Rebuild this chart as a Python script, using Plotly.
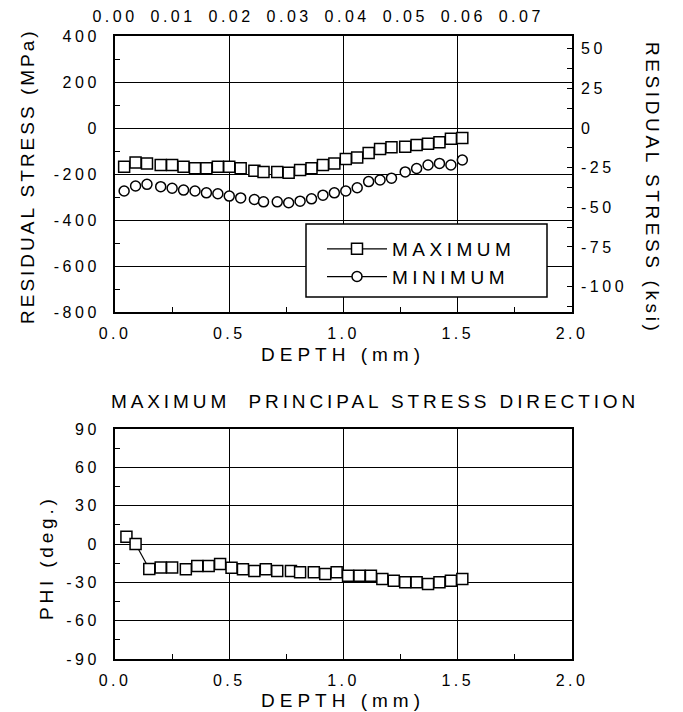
import plotly.graph_objects as go

# ---------------- data ----------------
depth_mm = [0.04, 0.09, 0.14, 0.20, 0.25, 0.30, 0.35, 0.40, 0.45, 0.50,
            0.55, 0.61, 0.65, 0.71, 0.76, 0.81, 0.86, 0.91, 0.96, 1.01,
            1.06, 1.11, 1.16, 1.21, 1.27, 1.32, 1.37, 1.42, 1.47, 1.52]
max_stress = [-169, -150, -154, -161, -161, -169, -175, -175, -169, -169,
              -175, -186, -191, -191, -195, -183, -175, -161, -154, -135,
              -128, -109, -91, -84, -81, -74, -69, -62, -47, -43]
min_stress = [-274, -252, -245, -255, -262, -270, -274, -282, -286, -296,
              -304, -311, -321, -321, -325, -318, -308, -292, -282, -274,
              -260, -233, -226, -218, -191, -176, -161, -154, -161, -139]
phi_depth = [0.05, 0.09, 0.15, 0.20, 0.25, 0.31, 0.36, 0.41, 0.46, 0.51,
             0.56, 0.61, 0.66, 0.71, 0.77, 0.81, 0.87, 0.92, 0.97, 1.02,
             1.07, 1.12, 1.17, 1.22, 1.27, 1.32, 1.37, 1.42, 1.47, 1.52]
phi_deg = [5.7, 0, -19.6, -18.3, -18.3, -19.8, -17.2, -17.2, -15.7, -18.5,
           -19.8, -21.1, -19.8, -21.1, -21.1, -22.2, -22.2, -23.5, -22.2, -24.8,
           -24.8, -24.8, -27.4, -28.7, -30, -30, -31.3, -30, -28.7, -27.4]

depth_ticks = [0.0, 0.5, 1.0, 1.5, 2.0]
depth_labels = ["0.0", "0.5", "1.0", "1.5", "2.0"]
inch_ticks = [0.00, 0.01, 0.02, 0.03, 0.04, 0.05, 0.06, 0.07]
inch_labels = ["0.00", "0.01", "0.02", "0.03", "0.04", "0.05", "0.06", "0.07"]
mpa_ticks = [400, 200, 0, -200, -400, -600, -800]
mpa_labels = ["400", "200", "0", "-200", "-400", "-600", "-800"]
ksi_ticks = [50, 25, 0, -25, -50, -75, -100]
ksi_labels = ["50", "25", "0", "-25", "-50", "-75", "-100"]
phi_ticks = [90, 60, 30, 0, -30, -60, -90]
phi_labels = ["90", "60", "30", "0", "-30", "-60", "-90"]
MPA_PER_KSI = 6.894757

FONT = "Liberation Sans, Arial, sans-serif"
OFF = 8                     # page body margin of the browser
W, H = 683 - OFF, 712 - OFF


def px_x(p):
    return (p - OFF) / W


def px_y(p):
    return 1 - (p - OFF) / H


def sp(text, ls):
    return '<span style="letter-spacing:%spx">%s</span>' % (ls, text)


TICK_LS = 3.5

fig = go.Figure()

mk_sq = dict(symbol="square", size=11, color="white", line=dict(color="black", width=1.5))
mk_ci = dict(symbol="circle", size=10, color="white", line=dict(color="black", width=1.5))

# top plot: data
fig.add_trace(go.Scatter(x=depth_mm, y=max_stress, mode="markers", marker=mk_sq,
                         showlegend=False, xaxis="x", yaxis="y"))
fig.add_trace(go.Scatter(x=depth_mm, y=min_stress, mode="markers", marker=mk_ci,
                         showlegend=False, xaxis="x", yaxis="y"))
# legend entries
fig.add_trace(go.Scatter(x=[None], y=[None], mode="lines+markers", name=sp("MAXIMUM", 4.5),
                         legendgroup="a", marker=mk_sq, line=dict(color="black", width=1.2),
                         xaxis="x", yaxis="y"))
fig.add_trace(go.Scatter(x=[None], y=[None], mode="lines+markers", name=sp("MINIMUM", 4.5),
                         legendgroup="b", marker=mk_ci, line=dict(color="black", width=1.2),
                         xaxis="x", yaxis="y"))
# dummy for secondary (inch / ksi) axes
fig.add_trace(go.Scatter(x=[None], y=[None], mode="markers", showlegend=False,
                         xaxis="x3", yaxis="y3", hoverinfo="skip"))

# bottom plot: connector between 2nd and 3rd points, then markers
fig.add_trace(go.Scatter(x=phi_depth[1:3], y=phi_deg[1:3], mode="lines",
                         line=dict(color="black", width=1.2), showlegend=False,
                         xaxis="x2", yaxis="y2"))
fig.add_trace(go.Scatter(x=phi_depth, y=phi_deg, mode="markers", marker=mk_sq,
                         showlegend=False, xaxis="x2", yaxis="y2"))

tickfont = dict(family=FONT, size=16, color="black")
xdom = [px_x(115), px_x(572)]
top_dom = [px_y(312), px_y(36)]
bot_dom = [px_y(659), px_y(429)]

common = dict(showline=True, linecolor="black", linewidth=2, mirror=True,
              showgrid=True, gridcolor="black", gridwidth=1, zeroline=False,
              ticks="inside", ticklen=5, tickwidth=1.2, tickcolor="black",
              tickfont=tickfont, automargin=False)
minor_x = dict(dtick=0.25, ticks="inside", ticklen=5, tickcolor="black", showgrid=False)

fig.update_layout(
    template="none",
    width=W, height=H,
    margin=dict(l=0, r=0, t=0, b=0, pad=0),
    paper_bgcolor="white", plot_bgcolor="white",
    font=dict(family=FONT, color="black"),
    showlegend=True,
    xaxis=dict(domain=xdom, anchor="y", range=[0, 2.0],
               tickvals=depth_ticks, ticktext=[sp(t, TICK_LS) for t in depth_labels],
               minor=minor_x, ticklabelstandoff=6, **common),
    yaxis=dict(domain=top_dom, anchor="x", range=[-800, 400],
               tickvals=mpa_ticks, ticktext=[sp(t, TICK_LS) for t in mpa_labels],
               minor=dict(dtick=100, ticks="inside", ticklen=5, tickcolor="black", showgrid=False),
               ticklabelstandoff=10, **common),
    xaxis3=dict(overlaying="x", anchor="y", side="top", range=[0, 2.0 / 25.4],
                tickvals=inch_ticks, ticktext=[sp(t, TICK_LS) for t in inch_labels],
                showgrid=False, showline=False, automargin=False,
                ticks="", tickfont=tickfont, zeroline=False, ticklabelstandoff=10),
    yaxis3=dict(overlaying="y", anchor="x", side="right",
                range=[-800 / MPA_PER_KSI, 400 / MPA_PER_KSI],
                tickvals=ksi_ticks, ticktext=[sp(t, TICK_LS) for t in ksi_labels],
                showgrid=False, showline=False, zeroline=False, automargin=False,
                ticks="inside", ticklen=5, tickcolor="black", tickwidth=1.2,
                minor=dict(dtick=12.5, ticks="inside", ticklen=5, tickcolor="black"),
                tickfont=tickfont, ticklabelstandoff=8),
    xaxis2=dict(domain=xdom, anchor="y2", range=[0, 2.0],
                tickvals=depth_ticks, ticktext=[sp(t, TICK_LS) for t in depth_labels],
                minor=minor_x, ticklabelstandoff=6, **common),
    yaxis2=dict(domain=bot_dom, anchor="x2", range=[-90, 90],
                tickvals=phi_ticks, ticktext=[sp(t, TICK_LS) for t in phi_labels],
                minor=dict(dtick=15, ticks="inside", ticklen=5, tickcolor="black", showgrid=False),
                ticklabelstandoff=10, **common),
    legend=dict(x=px_x(322), y=px_y(230), xanchor="left", yanchor="top",
                bgcolor="rgba(0,0,0,0)", borderwidth=0,
                font=dict(family=FONT, size=19, color="black"),
                itemwidth=60, tracegroupgap=8, traceorder="normal"),
)

# legend frame
fig.add_shape(type="rect", xref="paper", yref="paper",
              x0=px_x(306), x1=px_x(547), y0=px_y(297), y1=px_y(224),
              line=dict(color="black", width=1.5), fillcolor="white", layer="above")

ann_font = dict(family=FONT, size=19, color="black")
anns = [
    dict(text=sp("RESIDUAL STRESS (MPa)", 3), x=px_x(27), y=px_y(176), textangle=-90),
    dict(text=sp("RESIDUAL STRESS (ksi)", 3.6), x=px_x(652), y=px_y(188), textangle=90),
    dict(text=sp("DEPTH (mm)", 5), x=px_x(343), y=px_y(354), textangle=0),
    dict(text=sp("MAXIMUM  PRINCIPAL STRESS DIRECTION", 3.9), x=px_x(375), y=px_y(401), textangle=0),
    dict(text=sp("PHI (deg.)", 3.8), x=px_x(46), y=px_y(558), textangle=-90),
    dict(text=sp("DEPTH (mm)", 5), x=px_x(343), y=px_y(700), textangle=0),
]
for a in anns:
    fig.add_annotation(xref="paper", yref="paper", showarrow=False,
                       xanchor="center", yanchor="middle", font=ann_font, **a)

fig.write_html("out.html")
